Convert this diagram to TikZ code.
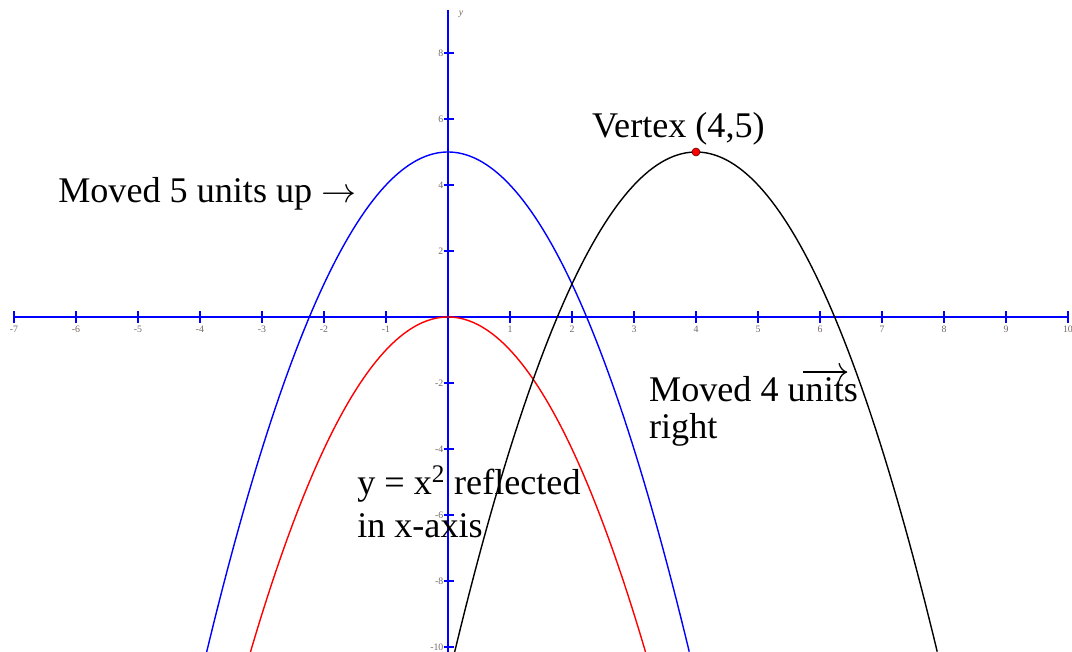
\documentclass[tikz,border=0pt]{standalone}
\usepackage{fontspec}
\setmainfont{Liberation Serif}
\usetikzlibrary{arrows.meta,positioning}
\definecolor{axisblue}{RGB}{0,0,255}
\definecolor{parared}{RGB}{255,0,0}
\definecolor{tickgray}{RGB}{115,105,100}
\tikzset{
  >={To[length=2.2mm]},
  axis line/.style={draw=axisblue,line width=1.4pt},
  tickmark/.style={draw=axisblue,line width=1.1pt},
  ticklabel/.style={font=\fontsize{7}{8}\selectfont,text=tickgray,inner sep=0pt},
  curve/.style={draw=#1,line width=1pt,samples=120},
  curve/.default=black,
  caption/.style={font=\fontsize{25.7}{30}\selectfont,inner sep=0pt,anchor=base west},
  vertex dot/.style={circle,fill=parared,draw=black!60!red,line width=0.4pt,
    minimum size=2mm,inner sep=0pt},
}

\begin{document}
\begin{tikzpicture}[x=1.55cm,y=0.825cm]
  \useasboundingbox (-7.226,-10.152) rectangle (10.065,9.606);
  % axes
  \draw[axis line] (-7,0) -- (10,0);
  \draw[axis line] (0,-10.3) -- (0,9.3);
  \foreach \x in {-7,...,-1,1,2,...,10} {
    \draw[tickmark] (\x,-0.18) -- (\x,0.18);
    \node[ticklabel] (xl\x) at (\x,-0.36) {\x};
  }
  \foreach \y in {-10,-8,...,-2,2,4,...,8} {
    \draw[tickmark] (-0.065,\y) -- (0.1,\y);
    \node[ticklabel,anchor=east] (yl\y) at (-0.07,\y) {\y};
  }
  \node[ticklabel,font=\fontsize{7}{8}\selectfont\itshape] (ylab) at (0.21,9.18) {y};
  % parabolas
  \draw[curve=parared] plot[domain=-3.186:3.186] (\x,{-\x*\x});
  \draw[curve=axisblue] plot[domain=-3.893:3.893] (\x,{5-\x*\x});
  \draw[curve] plot[domain=0.107:7.893] (\x,{5-(\x-4)*(\x-4)});
  \node[vertex dot] (vtx) at (4,5) {};
  % labels
  \node[caption] (vertex) at (2.32,5.45) {Vertex (4,5)};
  \node[caption] (up) at (-6.29,3.48) {Moved 5 units up $\rightarrow$};
  \node[caption] (right1) at (3.24,-2.55) {Moved 4 units};
  \node[caption] (right2) at (3.24,-3.67) {right};
  \coordinate (rarrL) at (5.73,-1.67);
  \coordinate (rarrR) at (6.44,-1.67);
  \draw[->,line width=0.9pt] (rarrL) -- (rarrR);
  \node[caption] (refl1) at (-1.468,-5.39) {y = x\textsuperscript{2} reflected};
  \node[caption] (refl2) at (-1.468,-6.67) {in x-axis};
\end{tikzpicture}
\end{document}
